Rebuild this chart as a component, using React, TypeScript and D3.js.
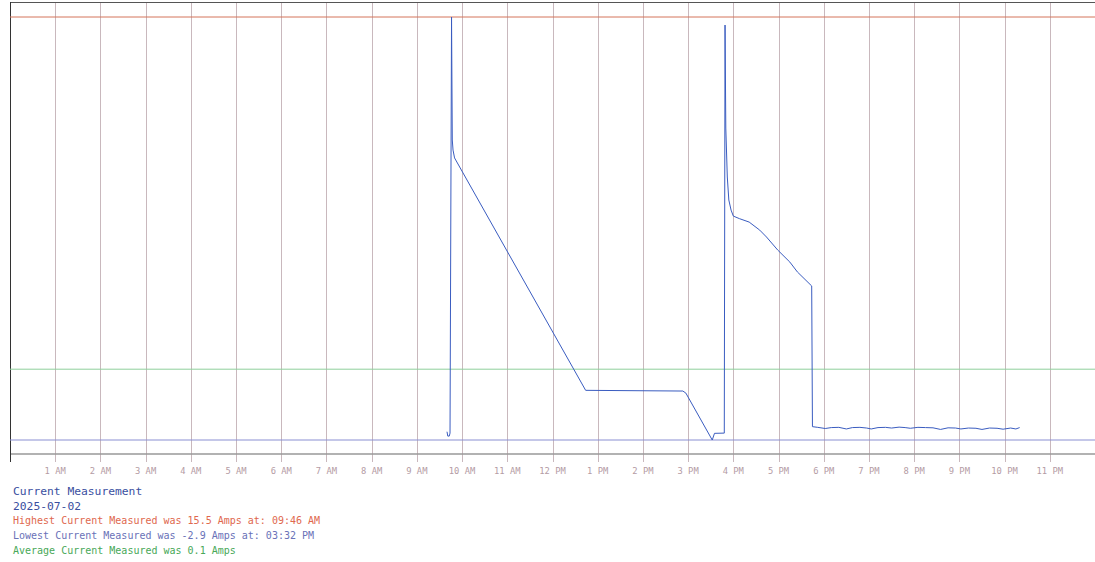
import React from "react";
import * as d3 from "d3";

// Data: time (HH:MM) and current (Amps)
const times: string[] = [
  "09:40", "09:41", "09:43", "09:44", "09:46", "09:47", "09:48", "09:50",
  "12:44", "14:53", "14:57", "15:32", "15:35", "15:48",
  "15:49", "15:50", "15:52", "15:54", "15:57", "16:00", "16:08", "16:21",
  "16:35", "16:44", "16:59", "17:15", "17:25", "17:44",
  "17:45", "17:52", "18:02", "18:10", "18:20", "18:30", "18:38", "18:48",
  "18:57", "19:03", "19:12", "19:22", "19:30", "19:40", "19:48", "19:55",
  "20:05", "20:15", "20:25", "20:35", "20:45", "20:55", "21:02", "21:12",
  "21:22", "21:30", "21:40", "21:50", "21:58", "22:08", "22:15", "22:20",
];
const amps: number[] = [
  -2.54, -2.73, -2.73, -2.6, 15.5, 10.15, 9.71, 9.37,
  -0.74, -0.77, -0.86, -2.9, -2.61, -2.6,
  15.15, 10.67, 8.54, 7.54, 7.1, 6.84, 6.73, 6.58,
  6.23, 5.93, 5.36, 4.84, 4.41, 3.8,
  -2.32, -2.35, -2.4, -2.36, -2.35, -2.42, -2.36, -2.35,
  -2.38, -2.42, -2.36, -2.35, -2.38, -2.34, -2.36, -2.39,
  -2.35, -2.36, -2.37, -2.44, -2.37, -2.38, -2.42, -2.38,
  -2.39, -2.44, -2.38, -2.39, -2.43, -2.38, -2.42, -2.36,
];
const hourTicks: number[] = d3.range(1, 24);
const hourLabels: string[] = [
  "1 AM", "2 AM", "3 AM", "4 AM", "5 AM", "6 AM", "7 AM", "8 AM", "9 AM", "10 AM", "11 AM",
  "12 PM", "1 PM", "2 PM", "3 PM", "4 PM", "5 PM", "6 PM", "7 PM", "8 PM", "9 PM", "10 PM", "11 PM",
];
const highestCurrent = 15.5;
const highestTime = "09:46 AM";
const lowestCurrent = -2.9;
const lowestTime = "03:32 PM";
const averageCurrent = 0.18;
const chartTitle = "Current Measurement";
const chartDate = "2025-07-02";

const W = 1095;
const H = 562;

export default function App() {
  const x = d3.scaleLinear().domain([0, 1440]).range([10, 1095]);
  const y = d3.scaleLinear().domain([lowestCurrent, highestCurrent]).range([440, 17]);
  const yTop = 2;
  const yAxis = 454;
  const yTickEnd = 462;

  const toMin = (t: string) => {
    const [h, m] = t.split(":").map(Number);
    return h * 60 + m;
  };
  const pts = times.map((t, i) => [toMin(t), amps[i]] as [number, number]);
  const line = d3
    .line<[number, number]>()
    .x((d) => x(d[0]))
    .y((d) => y(d[1]));

  const mono = "'DejaVu Sans Mono', 'Liberation Mono', monospace";
  const avgText = (Math.floor(averageCurrent * 10) / 10).toFixed(1);

  return (
    <svg
      width={W}
      height={H}
      style={{ position: "absolute", left: 0, top: 0, background: "#fff" }}
    >
      {/* vertical hour grid */}
      {hourTicks.map((h) => (
        <line
          key={h}
          x1={Math.round(x(h * 60)) + 0.5}
          x2={Math.round(x(h * 60)) + 0.5}
          y1={yTop}
          y2={yTickEnd}
          stroke="#c9b8bd"
          strokeWidth={1}
        />
      ))}
      {/* top border */}
      <line x1={10} x2={W} y1={yTop + 0.5} y2={yTop + 0.5} stroke="#555" strokeWidth={1} />
      {/* bottom axis */}
      <line x1={10} x2={W} y1={yAxis} y2={yAxis} stroke="#999" strokeWidth={1.5} />
      {/* left axis */}
      <line x1={10.5} x2={10.5} y1={yTop} y2={yTickEnd} stroke="#333" strokeWidth={1} />

      {/* reference lines */}
      <line x1={10} x2={W} y1={y(highestCurrent)} y2={y(highestCurrent)} stroke="#d4755a" strokeWidth={1} />
      <line x1={10} x2={W} y1={y(averageCurrent)} y2={y(averageCurrent)} stroke="#8fcf9c" strokeWidth={1} />
      <line x1={10} x2={W} y1={y(lowestCurrent)} y2={y(lowestCurrent)} stroke="#8a8fd2" strokeWidth={1} />

      {/* data line */}
      <path d={line(pts) || ""} fill="none" stroke="#3a5cc0" strokeWidth={1} />

      {/* tick labels */}
      {hourTicks.map((h, i) => (
        <text
          key={h}
          x={x(h * 60)}
          y={474}
          textAnchor="middle"
          fontFamily={mono}
          fontSize={8.8}
          fill="#b49ba4"
        >
          {hourLabels[i]}
        </text>
      ))}

      {/* info text */}
      <text x={13} y={495} fontFamily={mono} fontSize={11.3} fill="#3a4fa0">
        {chartTitle}
      </text>
      <text x={13} y={510} fontFamily={mono} fontSize={11.3} fill="#3a4fa0">
        {chartDate}
      </text>
      <text x={13} y={524} fontFamily={mono} fontSize={10} fill="#e0684e">
        {`Highest Current Measured was ${highestCurrent.toFixed(1)} Amps at: ${highestTime}`}
      </text>
      <text x={13} y={539} fontFamily={mono} fontSize={10} fill="#6a72b8">
        {`Lowest Current Measured was ${lowestCurrent.toFixed(1)} Amps at: ${lowestTime}`}
      </text>
      <text x={13} y={554} fontFamily={mono} fontSize={10} fill="#48a858">
        {`Average Current Measured was ${avgText} Amps`}
      </text>
    </svg>
  );
}
